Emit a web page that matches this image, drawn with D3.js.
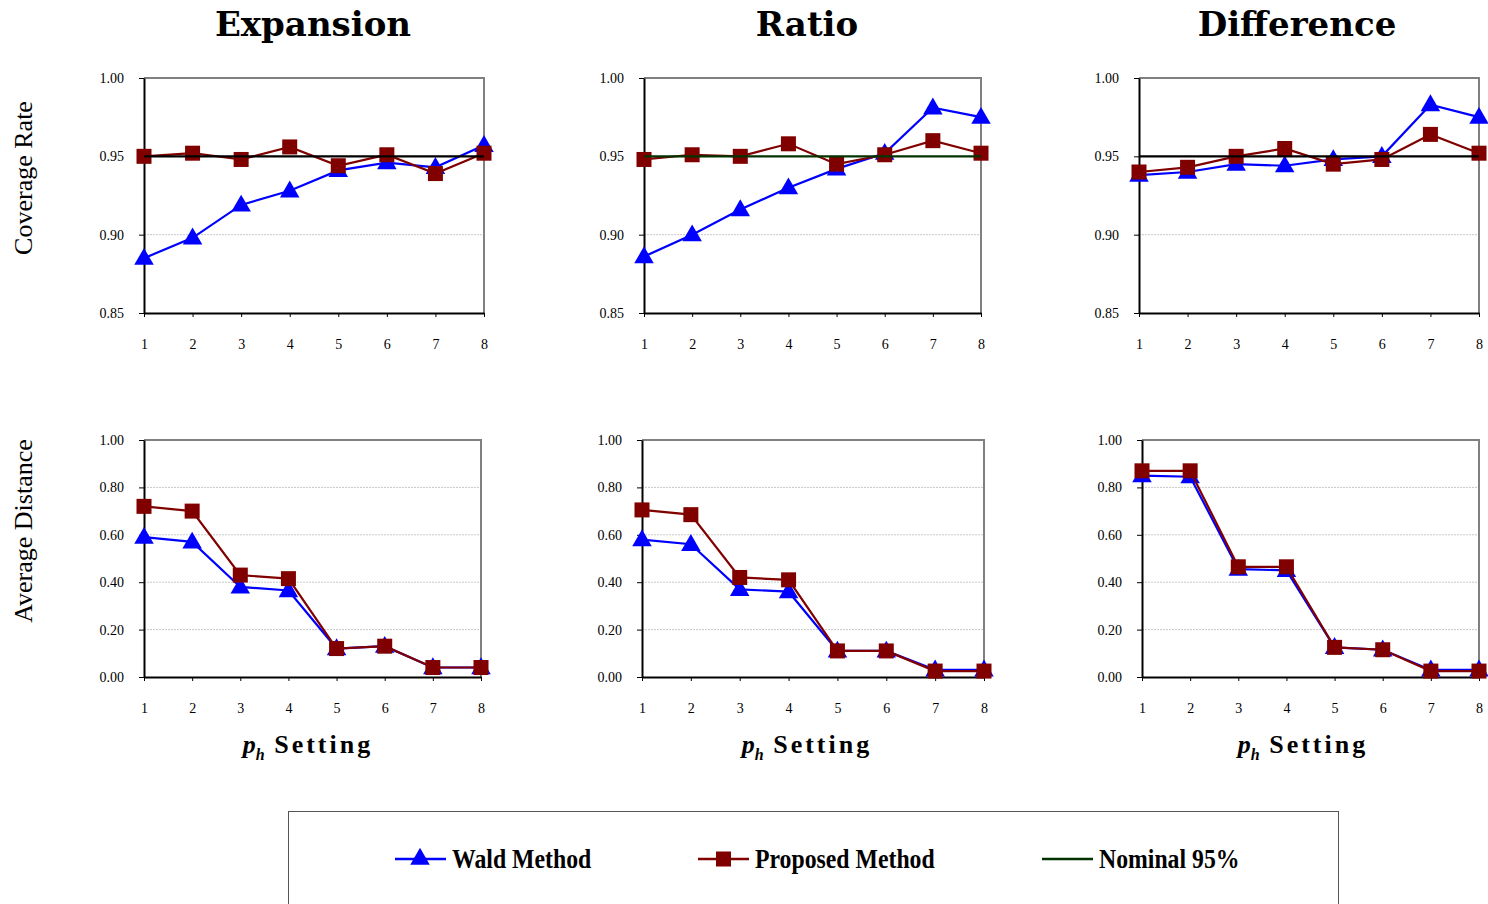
<!DOCTYPE html>
<html>
<head>
<meta charset="utf-8">
<script src="https://cdn.jsdelivr.net/npm/d3@7"></script>
<style>
	body { margin: 0; background: #fff; }
	svg { display: block; }
</style>
</head>
<body>
<svg width="1488" height="904"></svg>
<script>
// ---- data ----
var methods = ["Expansion", "Ratio", "Difference"]
var settings = [1, 2, 3, 4, 5, 6, 7, 8]

var covTicks = [0.85, 0.90, 0.95, 1.00]
var distTicks = [0, 0.2, 0.4, 0.6, 0.8, 1.0]
var nominal = 0.95

var waldCovExpansion = [0.885, 0.898, 0.919, 0.928, 0.941, 0.946, 0.943, 0.957]
var propCovExpansion = [0.950, 0.952, 0.948, 0.956, 0.944, 0.951, 0.939, 0.952]
var waldCovRatio = [0.886, 0.900, 0.916, 0.930, 0.942, 0.952, 0.981, 0.975]
var propCovRatio = [0.948, 0.951, 0.950, 0.958, 0.945, 0.951, 0.960, 0.952]
var waldCovDifference = [0.938, 0.940, 0.945, 0.944, 0.948, 0.950, 0.983, 0.975]
var propCovDifference = [0.940, 0.943, 0.950, 0.955, 0.945, 0.948, 0.964, 0.952]

var waldDistExpansion = [0.59, 0.57, 0.38, 0.365, 0.12, 0.13, 0.04, 0.04]
var propDistExpansion = [0.72, 0.70, 0.43, 0.415, 0.12, 0.13, 0.04, 0.04]
var waldDistRatio = [0.58, 0.56, 0.37, 0.36, 0.11, 0.11, 0.03, 0.03]
var propDistRatio = [0.705, 0.685, 0.42, 0.41, 0.11, 0.11, 0.025, 0.025]
var waldDistDifference = [0.85, 0.845, 0.455, 0.45, 0.125, 0.115, 0.03, 0.03]
var propDistDifference = [0.87, 0.87, 0.465, 0.465, 0.125, 0.115, 0.025, 0.025]

var blue = "#0000ff",
	darkRed = "#800000",
	green = "#003300"

var serif = "'Liberation Serif', 'Times New Roman', serif"

var svg = d3.select("svg")

// panel frames (plot areas)
var topPanels = [
	{ name: "Expansion", x0: 144, x1: 484, wald: waldCovExpansion, prop: propCovExpansion, nomColor: "#000" },
	{ name: "Ratio", x0: 644, x1: 981, wald: waldCovRatio, prop: propCovRatio, nomColor: green },
	{ name: "Difference", x0: 1139, x1: 1479, wald: waldCovDifference, prop: propCovDifference, nomColor: "#000" },
]
var bottomPanels = [
	{ name: "Expansion", x0: 144, x1: 481, wald: waldDistExpansion, prop: propDistExpansion },
	{ name: "Ratio", x0: 642, x1: 984, wald: waldDistRatio, prop: propDistRatio },
	{ name: "Difference", x0: 1142, x1: 1479, wald: waldDistDifference, prop: propDistDifference },
]

var triangle = d3.symbol().type(d3.symbolTriangle).size(165)

function drawPanel(p, y0, y1, domain, ticks, withNominal) {
	var x = d3.scaleLinear().domain([1, 8]).range([p.x0, p.x1])
	var y = d3.scaleLinear().domain(domain).range([y1, y0])
	var g = svg.append("g").attr("class", "panel")

	// gridlines
	g.append("g")
		.selectAll("line")
		.data(ticks.filter(function (t) { return t !== domain[0] && t !== domain[1] }))
		.enter()
		.append("line")
		.attr("x1", p.x0).attr("x2", p.x1)
		.attr("y1", function (d) { return y(d) })
		.attr("y2", function (d) { return y(d) })
		.attr("stroke", "#c8c8c8")
		.attr("stroke-width", 1)
		.attr("stroke-dasharray", "2,1")

	// top + right border
	g.append("path")
		.attr("d", "M" + p.x0 + "," + y0 + "H" + p.x1 + "V" + y1)
		.attr("fill", "none")
		.attr("stroke", "#808080")
		.attr("stroke-width", 2)

	// axes
	var yAxis = g.append("g")
		.attr("transform", "translate(" + p.x0 + ",0)")
		.call(d3.axisLeft(y).tickValues(ticks).tickFormat(d3.format(".2f")).tickSize(5).tickSizeOuter(0).tickPadding(15))
	var xAxis = g.append("g")
		.attr("transform", "translate(0," + y1 + ")")
		.call(d3.axisBottom(x).tickValues(settings).tickFormat(d3.format("d")).tickSize(4).tickSizeOuter(0).tickPadding(22))
	;[yAxis, xAxis].forEach(function (a) {
		a.attr("font-family", serif)
		a.select(".domain").attr("stroke", "#000").attr("stroke-width", 2)
		a.selectAll(".tick line").attr("stroke", "#000")
		a.selectAll("text")
			.attr("font-family", serif)
			.attr("font-size", 14)
			.attr("fill", "#000")
	})

	var line = d3.line()
		.x(function (d, i) { return x(settings[i]) })
		.y(function (d) { return y(d) })

	// Wald
	g.append("path").datum(p.wald)
		.attr("d", line).attr("fill", "none")
		.attr("stroke", blue).attr("stroke-width", 2.2)
	g.append("g").selectAll("path")
		.data(p.wald).enter().append("path")
		.attr("d", triangle)
		.attr("transform", function (d, i) { return "translate(" + x(settings[i]) + "," + (y(d) + 1) + ")" })
		.attr("fill", blue)

	// Proposed
	g.append("path").datum(p.prop)
		.attr("d", line).attr("fill", "none")
		.attr("stroke", darkRed).attr("stroke-width", 2.2)
	g.append("g").selectAll("rect")
		.data(p.prop).enter().append("rect")
		.attr("x", function (d, i) { return x(settings[i]) - 7.5 })
		.attr("y", function (d) { return y(d) - 7.5 })
		.attr("width", 15).attr("height", 15)
		.attr("fill", darkRed)

	if (withNominal) {
		g.append("line")
			.attr("x1", p.x0).attr("x2", p.x1)
			.attr("y1", y(nominal)).attr("y2", y(nominal))
			.attr("stroke", p.nomColor).attr("stroke-width", 2.2)
	}
}

topPanels.forEach(function (p) { drawPanel(p, 78, 313, [0.85, 1.0], covTicks, true) })
bottomPanels.forEach(function (p) { drawPanel(p, 440, 677, [0, 1.0], distTicks, false) })

// column titles
svg.append("g").selectAll("text")
	.data(methods).enter().append("text")
	.attr("x", function (d, i) { return [313, 807, 1297][i] })
	.attr("y", 36)
	.attr("text-anchor", "middle")
	.attr("font-family", "'DejaVu Serif', serif")
	.attr("font-weight", "bold")
	.attr("font-size", 34)
	.text(function (d) { return d })

// row titles
var rowTitles = ["Coverage Rate", "Average Distance"]
svg.append("g").selectAll("text")
	.data(rowTitles).enter().append("text")
	.attr("transform", function (d, i) { return "translate(32," + [178, 531][i] + ") rotate(-90)" })
	.attr("text-anchor", "middle")
	.attr("font-family", serif)
	.attr("font-size", 26)
	.text(function (d) { return d })

// x titles
;[308, 807, 1303].forEach(function (cx) {
	var t = svg.append("text")
		.attr("x", cx).attr("y", 753)
		.attr("text-anchor", "middle")
		.attr("font-family", serif)
		.attr("font-weight", "bold")
		.attr("font-size", 26)
	t.append("tspan").attr("font-style", "italic").text("p")
	t.append("tspan").attr("font-style", "italic").attr("font-size", 16).attr("dy", 7).text("h")
	t.append("tspan").attr("dy", -7).attr("letter-spacing", 3).text(" Setting")
})

// legend
var legend = svg.append("g")
legend.append("rect")
	.attr("x", 288.5).attr("y", 811.5)
	.attr("width", 1050).attr("height", 110)
	.attr("fill", "none").attr("stroke", "#555").attr("stroke-width", 1)

var legendItems = [
	{ label: "Wald Method", color: blue, mark: "triangle", x: 395 },
	{ label: "Proposed Method", color: darkRed, mark: "square", x: 698 },
	{ label: "Nominal 95%", color: green, mark: "none", x: 1042 },
]
var li = legend.selectAll(".item").data(legendItems).enter().append("g")
	.attr("class", "item")
	.attr("transform", function (d) { return "translate(" + d.x + ",859)" })
li.append("line").attr("x1", 0).attr("x2", 51)
	.attr("stroke", function (d) { return d.color }).attr("stroke-width", 2.5)
li.filter(function (d) { return d.mark === "triangle" })
	.append("path").attr("d", triangle).attr("transform", "translate(25,0)").attr("fill", blue)
li.filter(function (d) { return d.mark === "square" })
	.append("rect").attr("x", 18).attr("y", -7.5).attr("width", 15).attr("height", 15).attr("fill", darkRed)
// condensed, tall bold labels as in the reference
li.append("text")
	.attr("transform", "translate(57,9) scale(0.88,1)")
	.attr("font-family", serif)
	.attr("font-weight", "bold")
	.attr("font-size", 27)
	.text(function (d) { return d.label })
</script>
</body>
</html>
